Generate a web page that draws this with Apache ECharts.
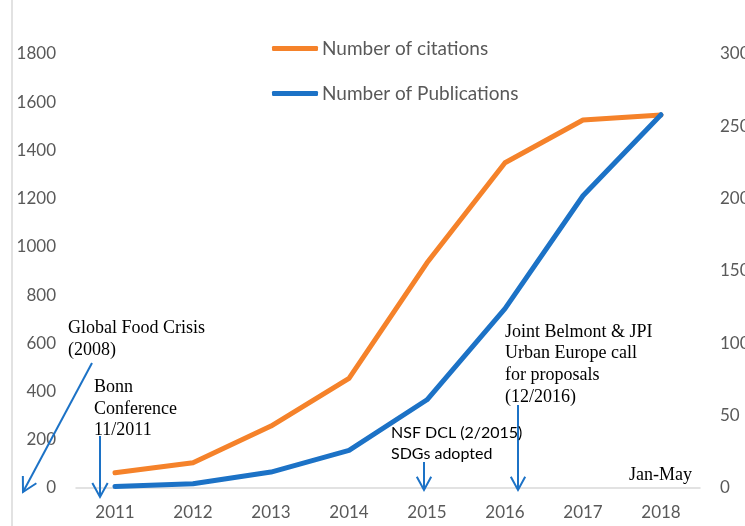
<!DOCTYPE html>
<html><head><meta charset="utf-8">
<script src="https://cdn.jsdelivr.net/npm/echarts@6/dist/echarts.min.js"></script>
<style>html,body{margin:0;padding:0;background:#fff}#c{width:745px;height:526px}</style>
</head><body><div id="c"></div>
<script>
var years = ['2011','2012','2013','2014','2015','2016','2017','2018'];
var citations = [63, 105, 257, 455, 934, 1349, 1526, 1547];
var publications = [1, 3, 11, 26, 61, 124, 202, 258];
var leftTicks = {min: 0, max: 1800, interval: 200};
var rightTicks = {min: 0, max: 300, interval: 50};

var ORANGE = '#F5822A', BLUE = '#1C72C6', GRAY = '#595959';
var serif = '"Liberation Serif","DejaVu Serif",serif';
var sansN = 'Lato,"Open Sans",sans-serif';

function arrow(x1, y1, x2, y2, head) {
  var a = Math.atan2(y2 - y1, x2 - x1), s = 0.5;
  var p1 = [x2 - head * Math.cos(a - s), y2 - head * Math.sin(a - s)];
  var p2 = [x2 - head * Math.cos(a + s), y2 - head * Math.sin(a + s)];
  var st = {stroke: BLUE, lineWidth: 2, fill: null};
  return [
    {type: 'line', shape: {x1: x1, y1: y1, x2: x2, y2: y2}, style: st, z: 100},
    {type: 'polyline', shape: {points: [p1, [x2, y2], p2]}, style: st, z: 100}
  ];
}
function txt(x, y, s, font, size, lh, align) {
  return {type: 'text', x: x, y: y, z: 100,
    style: {text: s, font: size + 'px ' + font, fill: '#000', lineHeight: lh, align: align || 'left', verticalAlign: 'top'}};
}

var graphics = [
  {type: 'line', shape: {x1: 12, y1: 0, x2: 12, y2: 526}, style: {stroke: '#d9d9d9', lineWidth: 1.5}}
].concat(
  arrow(92, 363, 23, 492, 16),
  arrow(100, 436, 100, 497, 16),
  arrow(424, 462, 424, 490, 15),
  arrow(518, 405, 518, 490, 15),
  [
    txt(68, 318, 'Global Food Crisis\n(2008)', serif, 18, 21.5),
    txt(94, 377, 'Bonn\nConference\n11/2011', serif, 18, 21.5),
    txt(391, 423, 'NSF DCL (2/2015)\nSDGs adopted', sansN, 16, 20.5),
    txt(505, 321, 'Joint Belmont & JPI\nUrban Europe call\nfor proposals\n(12/2016)', serif, 18, 21.7),
    txt(692, 465, 'Jan-May', serif, 18, 20, 'right')
  ]
);

var chart = echarts.init(document.getElementById('c'), null, {renderer: 'canvas'});
chart.setOption({
  animation: false,
  backgroundColor: '#fff',
  textStyle: {fontFamily: 'Lato, "Open Sans", sans-serif'},
  grid: {left: 76, right: 45, top: 54, bottom: 38, containLabel: false, outerBoundsMode: 'none'},
  legend: {
    orient: 'vertical', left: 267, top: 34, itemGap: 26,
    itemWidth: 46, itemHeight: 5, icon: 'roundRect',
    textStyle: {color: GRAY, fontSize: 19, padding: [0, 0, 0, -1]},
    data: ['Number of citations', 'Number of Publications']
  },
  xAxis: {
    type: 'category', data: years, boundaryGap: true,
    axisLine: {lineStyle: {color: '#d9d9d9', width: 1.5}},
    axisTick: {show: false},
    axisLabel: {color: GRAY, fontSize: 17, margin: 16}
  },
  yAxis: [
    {type: 'value', min: leftTicks.min, max: leftTicks.max, interval: leftTicks.interval,
     splitLine: {show: false}, axisLine: {show: false}, axisTick: {show: false},
     axisLabel: {color: GRAY, fontSize: 17, margin: 20, formatter: function (v) { return String(v); }}},
    {type: 'value', min: rightTicks.min, max: rightTicks.max, interval: rightTicks.interval,
     splitLine: {show: false}, axisLine: {show: false}, axisTick: {show: false},
     axisLabel: {color: GRAY, fontSize: 17, margin: 20, formatter: function (v) { return String(v); }}}
  ],
  series: [
    {name: 'Number of citations', type: 'line', yAxisIndex: 0, data: citations,
     showSymbol: false, symbol: 'none', lineStyle: {color: ORANGE, width: 5, cap: 'round', join: 'round'}, itemStyle: {color: ORANGE}, z: 2},
    {name: 'Number of Publications', type: 'line', yAxisIndex: 1, data: publications,
     showSymbol: false, symbol: 'none', lineStyle: {color: BLUE, width: 5, cap: 'round', join: 'round'}, itemStyle: {color: BLUE}, z: 3}
  ],
  graphic: graphics
});
</script></body></html>
